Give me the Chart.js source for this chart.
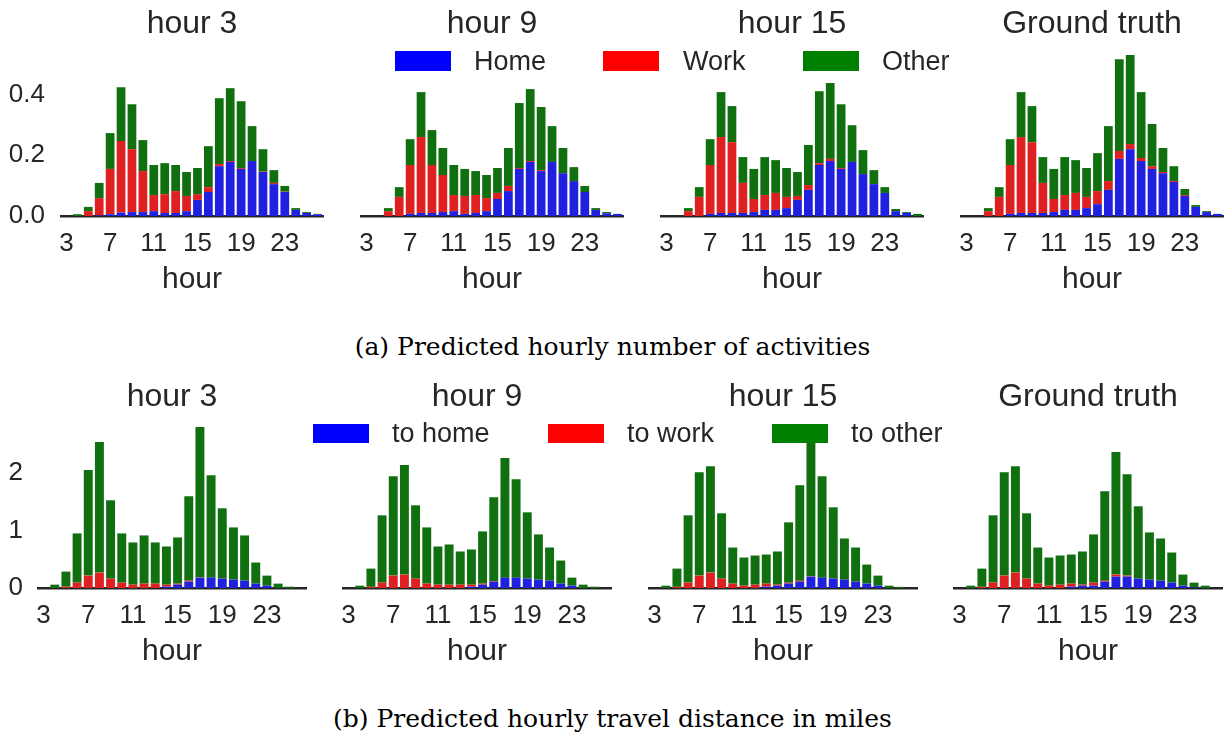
<!DOCTYPE html>
<html>
<head>
<meta charset="utf-8">
<script src="https://cdn.jsdelivr.net/npm/chart.js@4.4.1/dist/chart.umd.min.js"></script>
<style>
  body { margin: 0; width: 1225px; height: 734px; background: #fff; overflow: hidden; position: relative; }
  canvas { position: absolute; }
  .patch { position: absolute; width: 56px; height: 20px; }
  .legtext { position: absolute; font: 27px 'Liberation Sans', Arial, sans-serif; line-height: 27px; color: #262626; white-space: nowrap; }
  .caption { position: absolute; left: 0; width: 1225px; text-align: center; font: 25px 'DejaVu Serif', serif; line-height: 25px; color: #000; }
</style>
</head>
<body>
<canvas id="a1" width="325" height="300" style="left:0px;top:0px"></canvas>
<canvas id="a2" width="325" height="300" style="left:300px;top:0px"></canvas>
<canvas id="a3" width="325" height="300" style="left:600px;top:0px"></canvas>
<canvas id="a4" width="325" height="300" style="left:900px;top:0px"></canvas>
<canvas id="b1" width="306" height="300" style="left:2px;top:372px"></canvas>
<canvas id="b2" width="306" height="300" style="left:307px;top:372px"></canvas>
<canvas id="b3" width="306" height="300" style="left:613px;top:372px"></canvas>
<canvas id="b4" width="306" height="300" style="left:918px;top:372px"></canvas>

<div class="patch" style="left:395px;top:51px;background:#0000ff"></div>
<div class="legtext" style="left:474px;top:48px">Home</div>
<div class="patch" style="left:603px;top:51px;background:#ff0000"></div>
<div class="legtext" style="left:683px;top:48px">Work</div>
<div class="patch" style="left:803px;top:51px;background:#008000"></div>
<div class="legtext" style="left:882px;top:48px">Other</div>

<div class="patch" style="left:313px;top:424px;height:19px;background:#0000ff"></div>
<div class="legtext" style="left:392px;top:420px">to home</div>
<div class="patch" style="left:548px;top:424px;height:19px;background:#ff0000"></div>
<div class="legtext" style="left:627px;top:420px">to work</div>
<div class="patch" style="left:772px;top:424px;height:19px;background:#008000"></div>
<div class="legtext" style="left:851px;top:420px">to other</div>

<div class="caption" style="top:334px">(a) Predicted hourly number of activities</div>
<div class="caption" style="top:706px">(b) Predicted hourly travel distance in miles</div>

<script>
// hours 3 .. 26 (next day 2am)
const hourLabels = ['3', '4', '5', '6', '7', '8', '9', '10', '11', '12', '13', '14',
  '15', '16', '17', '18', '19', '20', '21', '22', '23', '24', '25', '26'];
const panelTitles = ['hour 3', 'hour 9', 'hour 15', 'Ground truth'];

// ─── (a) hourly number of activities ───────────────
const actHome3 = [0, 0, 0, 0.002, 0.006, 0.011, 0.013, 0.013, 0.016, 0.010, 0.010, 0.016, 0.053, 0.079, 0.164, 0.178, 0.155, 0.181, 0.145, 0.105, 0.079, 0.020, 0.010, 0.006];
const actWork3 = [0, 0, 0.016, 0.057, 0.149, 0.236, 0.207, 0.135, 0.053, 0.062, 0.072, 0.050, 0.019, 0.016, 0.007, 0.003, 0.003, 0, 0.001, 0.004, 0.001, 0, 0, 0];
const actOther3 = [0, 0.006, 0.014, 0.050, 0.118, 0.177, 0.148, 0.102, 0.099, 0.102, 0.086, 0.079, 0.086, 0.135, 0.217, 0.240, 0.220, 0.115, 0.074, 0.042, 0.019, 0.006, 0.003, 0.001];

const actHome9 = [0, 0, 0, 0, 0.007, 0.010, 0.010, 0.013, 0.016, 0.007, 0.010, 0.016, 0.056, 0.082, 0.155, 0.178, 0.148, 0.178, 0.141, 0.115, 0.079, 0.020, 0.009, 0.007];
const actWork9 = [0, 0, 0.016, 0.063, 0.161, 0.250, 0.158, 0.122, 0.053, 0.059, 0.059, 0.043, 0.020, 0.017, 0.003, 0.003, 0.003, 0, 0, 0, 0, 0, 0, 0];
const actOther9 = [0, 0, 0.010, 0.032, 0.085, 0.148, 0.115, 0.089, 0.099, 0.089, 0.079, 0.076, 0.082, 0.125, 0.214, 0.237, 0.208, 0.118, 0.083, 0.046, 0.020, 0.006, 0.004, 0];

const actHome15 = [0, 0, 0, 0, 0.007, 0.010, 0.010, 0.010, 0.013, 0.020, 0.020, 0.026, 0.053, 0.086, 0.168, 0.181, 0.155, 0.178, 0.138, 0.105, 0.076, 0.016, 0.010, 0];
const actWork15 = [0, 0, 0.016, 0.063, 0.161, 0.250, 0.233, 0.099, 0.043, 0.049, 0.056, 0.037, 0.013, 0.016, 0.006, 0.007, 0.003, 0, 0, 0, 0, 0, 0, 0];
const actOther15 = [0, 0, 0.010, 0.032, 0.085, 0.148, 0.119, 0.085, 0.099, 0.125, 0.108, 0.095, 0.079, 0.132, 0.237, 0.250, 0.210, 0.121, 0.079, 0.046, 0.019, 0.007, 0.003, 0.007];

const actHomeGT = [0, 0, 0, 0, 0.007, 0.010, 0.010, 0.010, 0.013, 0.020, 0.020, 0.026, 0.039, 0.086, 0.188, 0.220, 0.181, 0.155, 0.141, 0.112, 0.066, 0.030, 0.013, 0.007];
const actWorkGT = [0, 0, 0.016, 0.063, 0.161, 0.250, 0.233, 0.099, 0.043, 0.049, 0.056, 0.037, 0.043, 0.029, 0.026, 0.017, 0.010, 0.009, 0.004, 0.003, 0.003, 0, 0, 0];
const actOtherGT = [0, 0, 0.010, 0.032, 0.085, 0.148, 0.119, 0.085, 0.099, 0.125, 0.108, 0.095, 0.125, 0.181, 0.302, 0.293, 0.217, 0.139, 0.079, 0.049, 0.020, 0.006, 0.003, 0];

// ─── (b) hourly travel distance in miles ───────────
const distHome3 = [0, 0, 0, 0, 0, 0, 0, 0, 0, 0, 0, 0.023, 0.058, 0.110, 0.180, 0.180, 0.163, 0.145, 0.128, 0.076, 0.041, 0, 0, 0];
const distWork3 = [0, 0, 0.023, 0.093, 0.215, 0.267, 0.163, 0.093, 0.058, 0.076, 0.076, 0.035, 0.018, 0.018, 0.005, 0, 0, 0, 0, 0, 0, 0, 0, 0];
const distOther3 = [0, 0.058, 0.262, 0.855, 1.832, 2.268, 1.360, 0.855, 0.733, 0.837, 0.715, 0.663, 0.802, 1.465, 2.612, 1.779, 1.221, 0.907, 0.785, 0.366, 0.174, 0.076, 0.023, 0];

const distHome9 = [0, 0, 0, 0, 0, 0, 0, 0, 0, 0, 0, 0.023, 0.058, 0.110, 0.180, 0.180, 0.163, 0.145, 0.128, 0.076, 0.041, 0, 0, 0];
const distWork9 = [0, 0, 0.020, 0.093, 0.215, 0.233, 0.163, 0.076, 0.058, 0.058, 0.058, 0.035, 0.018, 0.010, 0, 0, 0, 0, 0, 0, 0, 0, 0, 0];
const distOther9 = [0, 0.040, 0.317, 1.169, 1.727, 1.901, 1.273, 0.976, 0.663, 0.698, 0.576, 0.611, 0.907, 1.456, 2.076, 1.710, 1.151, 0.785, 0.575, 0.401, 0.139, 0.058, 0.023, 0];

const distHome15 = [0, 0, 0, 0, 0, 0, 0, 0, 0, 0, 0.023, 0.041, 0.076, 0.110, 0.198, 0.180, 0.163, 0.145, 0.110, 0.076, 0.041, 0, 0, 0];
const distWork15 = [0, 0, 0.020, 0.093, 0.215, 0.267, 0.163, 0.076, 0.041, 0.058, 0.053, 0.017, 0.017, 0.018, 0.005, 0, 0, 0, 0, 0, 0, 0, 0, 0];
const distOther15 = [0, 0.040, 0.317, 1.169, 1.797, 1.849, 1.134, 0.627, 0.488, 0.506, 0.505, 0.576, 1.047, 1.657, 2.547, 1.762, 1.238, 0.715, 0.593, 0.331, 0.174, 0.040, 0.020, 0];

const distHomeGT = [0, 0, 0, 0, 0, 0, 0, 0, 0, 0, 0.023, 0.041, 0.041, 0.110, 0.198, 0.198, 0.163, 0.145, 0.128, 0.093, 0.041, 0.010, 0, 0];
const distWorkGT = [0, 0, 0.020, 0.093, 0.215, 0.267, 0.163, 0.076, 0.041, 0.058, 0.053, 0.017, 0.052, 0.018, 0.035, 0.017, 0, 0, 0, 0, 0, 0, 0, 0];
const distOtherGT = [0, 0.040, 0.317, 1.169, 1.797, 1.849, 1.134, 0.627, 0.488, 0.506, 0.505, 0.576, 0.837, 1.552, 2.127, 1.762, 1.256, 0.820, 0.732, 0.523, 0.192, 0.083, 0.040, 0];

// seaborn-desaturated blue / red / green
const COLORS = ['#2020df', '#df2020', '#107010'];
const TEXT = '#262626';
const FONT = "'Liberation Sans', Arial, sans-serif";

Chart.defaults.font.family = FONT;
Chart.defaults.color = TEXT;

// panel title centred over the plot area, like matplotlib's ax.set_title
const panelTitle = {
  id: 'panelTitle',
  afterDraw(chart, args, opts) {
    const { ctx, chartArea } = chart;
    ctx.save();
    ctx.font = `32px ${FONT}`;
    ctx.fillStyle = TEXT;
    ctx.textAlign = 'center';
    ctx.textBaseline = 'alphabetic';
    ctx.fillText(opts.text, (chartArea.left + chartArea.right) / 2, opts.baseline);
    ctx.restore();
  },
};

function makePanel(id, title, series, cfg) {
  const datasets = series.map((data, i) => ({
    data,
    backgroundColor: COLORS[i],
    borderWidth: 0,
    barPercentage: 0.8,
    categoryPercentage: 1.0,
  }));

  new Chart(document.getElementById(id), {
    type: 'bar',
    data: { labels: hourLabels, datasets },
    plugins: [panelTitle],
    options: {
      responsive: false,
      animation: false,
      events: [],
      layout: { padding: { top: 49, bottom: 2, left: 0, right: 2 } },
      plugins: {
        legend: { display: false },
        tooltip: { enabled: false },
        panelTitle: { text: title, baseline: cfg.titleBase },
      },
      scales: {
        x: {
          stacked: true,
          offset: true,
          z: 1,
          grid: { display: false },
          border: { display: true, color: TEXT, width: 2.5 },
          ticks: {
            autoSkip: false,
            maxRotation: 0,
            padding: 4,
            font: { size: 26 },
            callback: (v, i) => (i % 4 === 0 ? hourLabels[i] : ''),
          },
          title: { display: true, text: 'hour', font: { size: 30, lineHeight: 1.2 }, padding: 0 },
          afterFit: (s) => { s.height = 82; },
        },
        y: {
          stacked: true,
          min: 0,
          max: cfg.yMax,
          grid: { display: false },
          border: { display: false },
          ticks: {
            display: cfg.showTicks,
            stepSize: cfg.step,
            includeBounds: false,
            padding: cfg.tickPad,
            font: { size: 26 },
            callback: (v) => v.toFixed(cfg.decimals),
          },
          afterFit: (s) => { s.width = cfg.axisW; },
        },
      },
    },
  });
}

const actSeries = [
  [actHome3, actWork3, actOther3],
  [actHome9, actWork9, actOther9],
  [actHome15, actWork15, actOther15],
  [actHomeGT, actWorkGT, actOtherGT],
];
const distSeries = [
  [distHome3, distWork3, distOther3],
  [distHome9, distWork9, distOther9],
  [distHome15, distWork15, distOther15],
  [distHomeGT, distWorkGT, distOtherGT],
];

actSeries.forEach((s, i) => {
  makePanel('a' + (i + 1), panelTitles[i], s, {
    yMax: 0.55, step: 0.2, decimals: 1, showTicks: i === 0, axisW: 61, tickPad: 8, titleBase: 33,
  });
});
distSeries.forEach((s, i) => {
  makePanel('b' + (i + 1), panelTitles[i], s, {
    yMax: 2.9, step: 1, decimals: 0, showTicks: i === 0, axisW: 36, tickPad: 7, titleBase: 34,
  });
});
</script>
</body>
</html>
